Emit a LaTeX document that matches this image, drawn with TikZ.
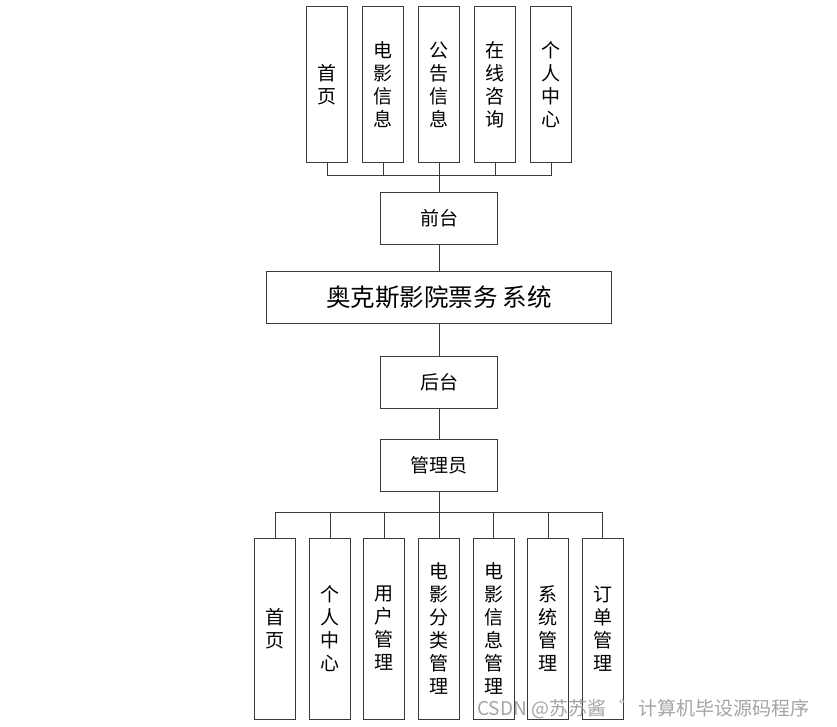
\documentclass[tikz,border=0pt]{standalone}
\usepackage{fontspec}
\setmainfont{Noto Sans CJK SC}
\usepackage{xcolor}
\usepackage{tikz}
\usetikzlibrary{positioning}
\definecolor{LineGray}{HTML}{3A3A3A}
\definecolor{MarkGray}{HTML}{9A9A9A}
\tikzset{
  colbox/.style={draw=LineGray,line width=1pt,minimum width=41pt,
    font=\fontsize{19}{23}\selectfont,align=center,inner sep=0pt},
  topbox/.style={colbox,minimum height=156pt},
  botbox/.style={colbox,minimum height=181pt},
  midbox/.style={draw=LineGray,line width=1pt,minimum width=117pt,minimum height=52pt,
    font=\fontsize{19}{23}\selectfont,inner sep=0pt},
  sysbox/.style={draw=LineGray,line width=1pt,minimum width=345pt,minimum height=52pt,
    font=\fontsize{24.5}{28}\selectfont,inner sep=0pt},
  link/.style={draw=LineGray,line width=1pt},
}

\begin{document}
\begin{tikzpicture}[x=1pt,y=-1pt]
  \useasboundingbox (0,0) rectangle (837,727);
  % front end modules
  \node[topbox] (top1) at (327,85) {首\\页};
  \node[topbox] (top2) at (383,85) {电\\影\\信\\息};
  \node[topbox] (top3) at (439,85) {公\\告\\信\\息};
  \node[topbox] (top4) at (495,85) {在\\线\\咨\\询};
  \node[topbox] (top5) at (551,85) {个\\人\\中\\心};
  \node[midbox] (front) at (439,218.5) {前台};
  \node[sysbox] (sys) at (439,297) {奥克斯影院票务 系统};
  \node[midbox] (back) at (439,382) {后台};
  \node[midbox] (admin) at (439,465) {管理员};
  % back end modules
  \node[botbox] (bot1) at (275,628.5) {首\\页};
  \node[botbox] (bot2) at (330,628.5) {个\\人\\中\\心};
  \node[botbox] (bot3) at (384.3,628.5) {用\\户\\管\\理};
  \node[botbox] (bot4) at (439,628.5) {电\\影\\分\\类\\管\\理};
  \node[botbox] (bot5) at (493.7,628.5) {电\\影\\信\\息\\管\\理};
  \node[botbox] (bot6) at (548.3,628.5) {系\\统\\管\\理};
  \node[botbox] (bot7) at (602.5,628.5) {订\\单\\管\\理};
  \coordinate (busT) at (439,176);
  \coordinate (busB) at (439,512);
  \foreach \i in {1,...,5}
    \draw[link] (top\i.south) |- (busT);
  \draw[link] (busT) -- (front.north);
  \draw[link] (front.south) -- (sys.north);
  \draw[link] (sys.south) -- (back.north);
  \draw[link] (back.south) -- (admin.north);
  \draw[link] (admin.south) -- (busB);
  \foreach \i in {1,...,7}
    \draw[link] (busB) -| (bot\i.north);
  \node[font=\fontsize{19}{22}\selectfont,text=MarkGray,opacity=0.9,anchor=west,inner sep=0pt]
    (mark) at (477,709) {CSDN @苏苏酱\hspace{13pt}゛计算机毕设源码程序};
\end{tikzpicture}
\end{document}
